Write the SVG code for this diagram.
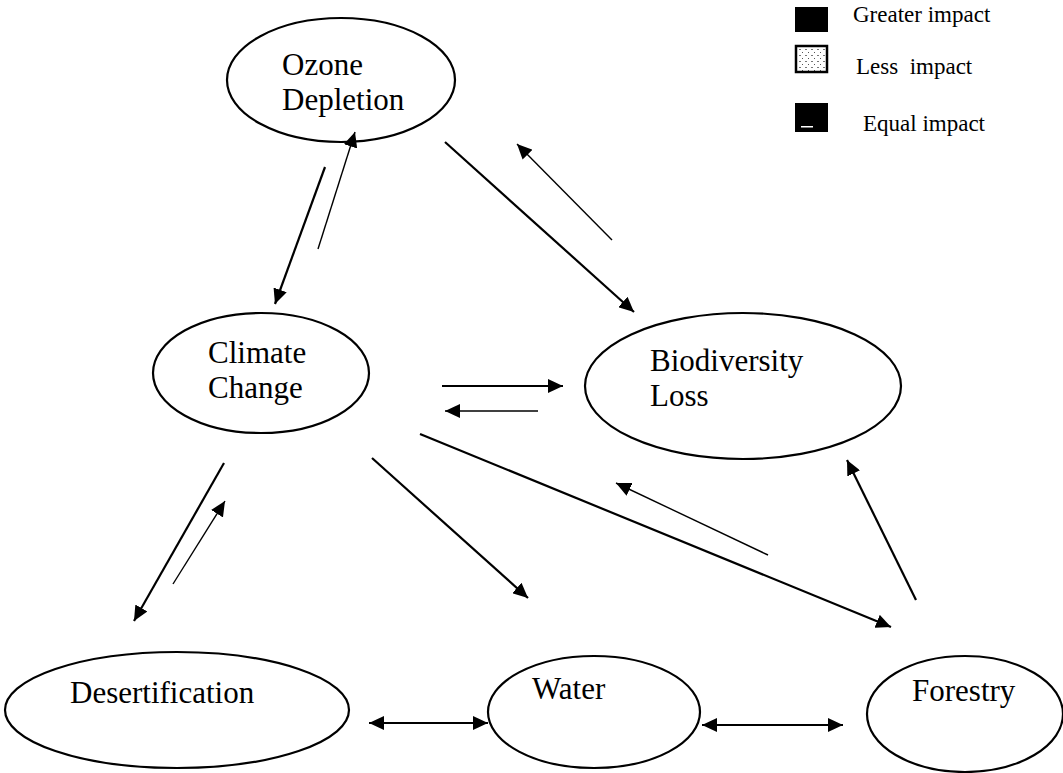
<svg xmlns="http://www.w3.org/2000/svg" width="1063" height="773" viewBox="0 0 1063 773">
<style>
.node{fill:#fff;stroke:#000;stroke-width:2.2}
.lbl{font-family:"Liberation Serif","Times New Roman",serif;font-size:31px;fill:#000}
.leg{font-family:"Liberation Serif","Times New Roman",serif;font-size:23px;fill:#000}
.thick{stroke:#000;stroke-width:2.2;fill:none}
.thin{stroke:#000;stroke-width:1.4;fill:none}
</style>
<defs>
<marker id="ah" markerUnits="userSpaceOnUse" markerWidth="16" markerHeight="14" refX="15" refY="7" orient="auto-start-reverse">
<path d="M0,0 L15,7 L0,14 z" fill="#000"/>
</marker>
<pattern id="dots" width="6" height="6" patternUnits="userSpaceOnUse">
<rect width="6" height="6" fill="#fff"/>
<rect x="1" y="1" width="2" height="1" fill="#777"/>
<rect x="4" y="4" width="1" height="1" fill="#555"/>
</pattern>
</defs>
<rect width="1063" height="773" fill="#fff"/>

<g id="legend">
<rect x="795" y="7" width="33" height="25" fill="#000"/>
<rect x="796" y="46" width="31" height="26" fill="url(#dots)" stroke="#000" stroke-width="2.5"/>
<rect x="795" y="103" width="33" height="29" fill="#000"/>
<rect x="801" y="126" width="12" height="1.5" fill="#fff"/>
<text class="leg" x="853" y="22">Greater impact</text>
<text class="leg" x="856" y="74" xml:space="preserve">Less  impact</text>
<text class="leg" x="863" y="131">Equal impact</text>
</g>

<g id="node-ozone">
<ellipse class="node" cx="341" cy="80" rx="114" ry="62"/>
<text class="lbl" x="282" y="75">Ozone</text>
<text class="lbl" x="282" y="110">Depletion</text>
</g>

<g id="node-climate">
<ellipse class="node" cx="261" cy="373" rx="108" ry="60"/>
<text class="lbl" x="208" y="363">Climate</text>
<text class="lbl" x="208" y="398">Change</text>
</g>

<g id="node-biodiversity">
<ellipse class="node" cx="743" cy="386" rx="158" ry="73"/>
<text class="lbl" x="650" y="371">Biodiversity</text>
<text class="lbl" x="650" y="406">Loss</text>
</g>

<g id="node-desertification">
<ellipse class="node" cx="177" cy="710" rx="172" ry="58"/>
<text class="lbl" x="70" y="703">Desertification</text>
</g>

<g id="node-water">
<ellipse class="node" cx="594" cy="712" rx="106" ry="56"/>
<text class="lbl" x="532" y="699">Water</text>
</g>

<g id="node-forestry">
<ellipse class="node" cx="965" cy="714" rx="98" ry="58"/>
<text class="lbl" x="912" y="701">Forestry</text>
</g>

<g id="connectors">
<line class="thick" x1="325" y1="167" x2="275" y2="304" marker-end="url(#ah)"/>
<line class="thin" x1="318" y1="249" x2="355" y2="132" marker-end="url(#ah)"/>
<line class="thick" x1="445" y1="142" x2="634" y2="312" marker-end="url(#ah)"/>
<line class="thin" x1="612" y1="240" x2="517" y2="144" marker-end="url(#ah)"/>
<line class="thick" x1="442" y1="386" x2="563" y2="386" marker-end="url(#ah)"/>
<line class="thin" x1="538" y1="411" x2="445" y2="411" marker-end="url(#ah)"/>
<line class="thick" x1="224" y1="463" x2="134" y2="621" marker-end="url(#ah)"/>
<line class="thin" x1="173" y1="584" x2="225" y2="501" marker-end="url(#ah)"/>
<line class="thick" x1="372" y1="458" x2="528" y2="598" marker-end="url(#ah)"/>
<line class="thick" x1="420" y1="434" x2="891" y2="627" marker-end="url(#ah)"/>
<line class="thin" x1="768" y1="555" x2="616" y2="483" marker-end="url(#ah)"/>
<line class="thick" x1="916" y1="600" x2="847" y2="460" marker-end="url(#ah)"/>
<line class="thick" x1="369" y1="723" x2="488" y2="723" marker-start="url(#ah)" marker-end="url(#ah)"/>
<line class="thick" x1="702" y1="725" x2="843" y2="725" marker-start="url(#ah)" marker-end="url(#ah)"/>
</g>
</svg>
